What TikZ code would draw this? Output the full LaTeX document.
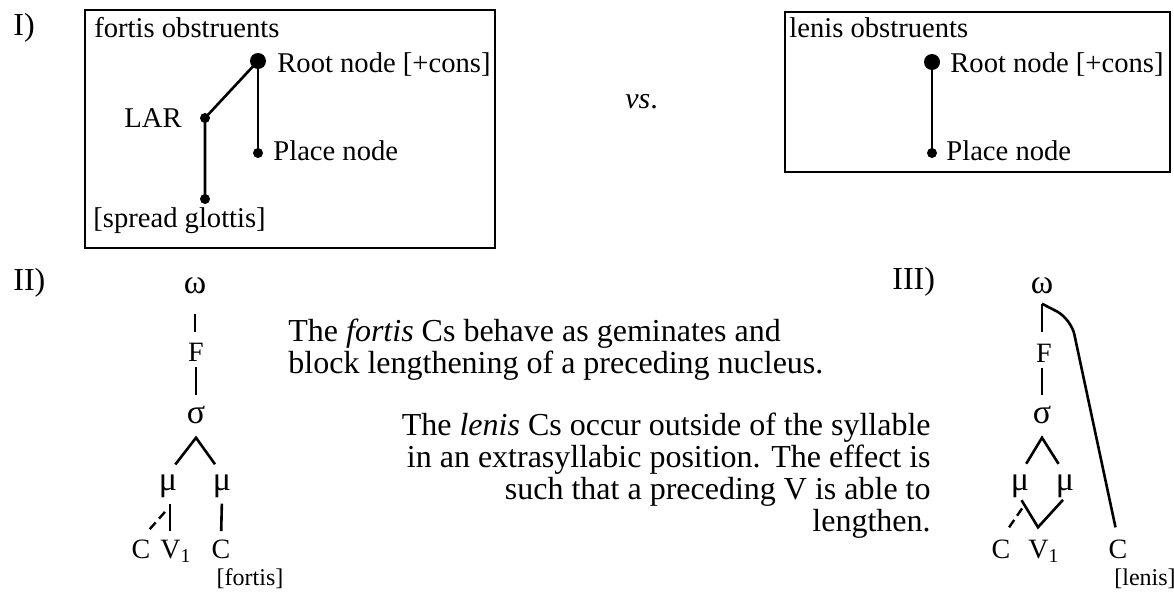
\documentclass[tikz,border=0pt]{standalone}
\usepackage{fontspec}
\setmainfont{Liberation Serif}
\tikzset{
  box/.style={line width=1pt},
  lbl/.style={inner sep=0pt, anchor=base west, font=\fontsize{14.3}{16}\selectfont},
  seg/.style={inner sep=0pt, anchor=base, font=\fontsize{14}{16}\selectfont},
  greek/.style={seg, font=\fontsize{17}{18}\selectfont},
  feat/.style={inner sep=0pt, anchor=base, font=\fontsize{12}{14}\selectfont},
  para/.style={inner sep=0pt, font=\fontsize{16}{16}\selectfont},
  num/.style={inner sep=0pt, anchor=base west, font=\fontsize{16}{18}\selectfont},
  bigdot/.style={circle, fill, inner sep=0pt, minimum size=8pt},
  smalldot/.style={circle, fill, inner sep=0pt, minimum size=5pt},
  link/.style={line width=1.3pt},
  assoc/.style={line width=1.2pt, dash pattern=on 4.5pt off 2.5pt},
}
\begin{document}
\begin{tikzpicture}[x=0.5pt, y=-0.5pt]
\useasboundingbox (0,0) rectangle (1174,594);

% I) fortis vs. lenis
\node[num] (n1) at (13,35) {I)};
\draw[box] (85,10) rectangle (495,248);
\node[lbl] (fhead) at (94,37) {fortis obstruents};
\node[bigdot] (froot) at (258,61) {};
\node[smalldot] (flar) at (205,118) {};
\node[smalldot] (fplace) at (258,153) {};
\node[smalldot] (fsg) at (205,199) {};
\node[lbl] (frootl) at (277,72) {Root node [+cons]};
\node[lbl, anchor=base east] (flarl) at (182,127) {LAR};
\node[lbl] (fplacel) at (273,160) {Place node};
\node[lbl] (fsgl) at (93,227) {[spread glottis]};
\draw[link] (froot.center) -- (flar.center) -- (fsg.center);
\draw[link] (froot.center) -- (fplace.center);

\node[num, font=\fontsize{15}{18}\selectfont] (vs) at (625,108) {\textit{vs}.};

\draw[box] (785,12) rectangle (1170,172);
\node[lbl] (lhead) at (789,38) {lenis obstruents};
\node[bigdot] (lroot) at (932,62) {};
\node[smalldot] (lplace) at (932,153) {};
\node[lbl] (lrootl) at (950,72) {Root node [+cons]};
\node[lbl] (lplacel) at (946,160) {Place node};
\draw[link] (lroot.center) -- (lplace.center);

% II) fortis
\node[num] (n2) at (13,290) {II)};
\node[greek] (w1) at (195,293) {ω};
\node[seg] (f1) at (196,361) {F};
\node[greek] (s1) at (196,423) {σ};
\node[greek] (m1a) at (168,490) {μ};
\node[greek] (m1b) at (222,490) {μ};
\node[seg] (c1a) at (141,558) {C};
\node[seg, anchor=base west] (v1) at (160,558) {V\textsubscript{1}};
\node[seg] (c1b) at (221,558) {C};
\node[feat] (fort) at (250,585) {[fortis]};
\coordinate (apex1) at ([yshift=-7pt]s1.south);
\coordinate (vtop1) at ([xshift=5pt]v1.north west);
\draw[link, shorten <=10pt, shorten >=5pt] (w1.south) -- (w1.south |- f1.north);
\draw[link, shorten <=3pt, shorten >=5pt] (s1 |- f1.south) -- (s1.north);
\draw[link, shorten <=6pt, shorten >=6pt] (m1a.north) -- (apex1) -- (m1b.north);
\draw[link, shorten <=3pt, shorten >=4pt] (vtop1 |- m1a.south) -- (vtop1);
\draw[assoc, shorten <=9.5pt, shorten >=6pt] (m1a.south east) -- (c1a.north);
\draw[link, shorten <=3pt, shorten >=4pt] (m1b.south) -- (c1b.north);

\node[para, align=left, anchor=north west] (pfortis) at (288,319)
  {The \textit{fortis} Cs behave as geminates and\\block lengthening of a preceding nucleus.};
\node[para, align=right, anchor=north east] (plenis) at (931,413)
  {The \textit{lenis} Cs occur outside of the syllable\\in an extrasyllabic position. The effect is\\such that a preceding V is able to\\lengthen.};

% III) lenis
\node[num] (n3) at (892,289) {III)};
\node[greek] (w2) at (1042,293) {ω};
\node[seg] (f2) at (1044,362) {F};
\node[greek] (s2) at (1042,423) {σ};
\node[greek] (m2a) at (1020,490) {μ};
\node[greek] (m2b) at (1065,490) {μ};
\node[seg] (c2a) at (1001,558) {C};
\node[seg, anchor=base west] (v2) at (1028,558) {V\textsubscript{1}};
\node[seg] (c2b) at (1118,558) {C};
\node[feat] (len) at (1145,585) {[lenis]};
\coordinate (wfoot2) at ([yshift=-5pt]w2.south);
\coordinate (apex2) at ([yshift=-7pt]s2.south);
\coordinate (vtip2) at ([xshift=5pt,yshift=6pt]v2.north west);
\draw[link, shorten >=5.5pt] (wfoot2) -- (wfoot2 |- f2.north);
\draw[link, shorten <=3pt, shorten >=5pt] (s2 |- f2.south) -- (s2.north);
\draw[link, rounded corners=8pt, shorten >=6pt] (wfoot2) -- ++(29,15) -- (c2b.north);
\draw[link, shorten <=6pt, shorten >=6pt] (m2a.north) -- (apex2) -- (m2b.north);
\draw[link, shorten <=1.5pt, shorten >=1.5pt] (m2a.south) -- (vtip2) -- (m2b.south);
\draw[assoc, shorten <=6.5pt, shorten >=5.9pt] (m2a.south east) -- (c2a.north);
\end{tikzpicture}
\end{document}
